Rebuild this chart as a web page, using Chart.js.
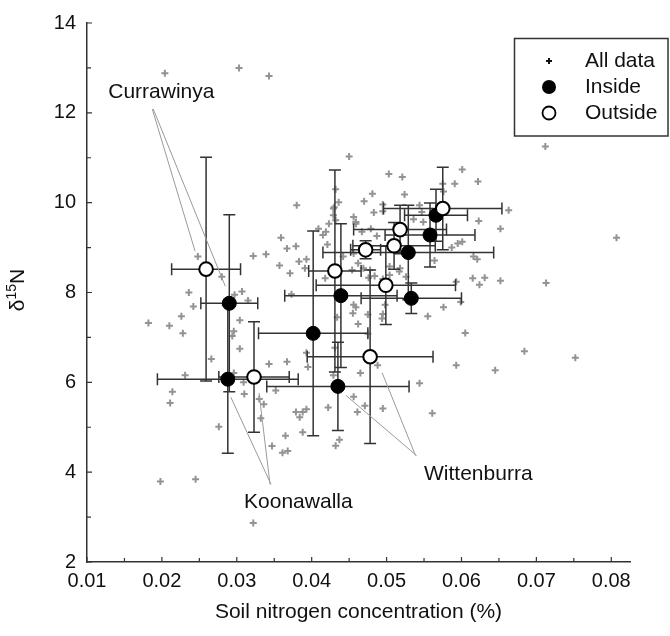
<!DOCTYPE html>
<html>
<head>
<meta charset="utf-8">
<script src="https://cdn.jsdelivr.net/npm/chart.js@4"></script>
<style>html,body{margin:0;padding:0;background:#fff}</style>
</head>
<body>
<canvas id="plot" width="670" height="636"></canvas>
<script>
// tick labels
var xTicks = [0.01, 0.02, 0.03, 0.04, 0.05, 0.06, 0.07, 0.08];
var yTicks = [2, 4, 6, 8, 10, 12, 14];

// all samples (soil N %, d15N)
var allN = [
  0.0204,0.0303,0.0343,0.0380,0.0359,0.0367,0.0379,0.0322,0.0339,0.0248,0.0280,0.0236,0.0357,0.0371,
  0.0383,0.0393,0.0391,0.0409,0.0415,0.0423,0.0421,0.0429,0.0432,0.0436,0.0418,0.0373,0.0297,0.0315,
  0.0182,0.0210,0.0226,0.0242,0.0228,0.0231,0.0214,0.0211,0.0266,0.0276,0.0198,0.0245,0.0322,0.0304,
  0.0296,0.0294,0.0304,0.0296,0.0309,0.0310,0.0330,0.0336,0.0332,0.0347,0.0361,0.0368,0.0365,0.0343,
  0.0367,0.0352,0.0379,0.0388,0.0393,0.0384,0.0388,0.0395,0.0393,0.0422,0.0432,0.0431,0.0429,
  0.0456,0.0459,0.0455,0.0462,0.0475,0.0494,0.0495,0.0498,0.0434,0.0555,0.0576,0.0599,0.0605,0.0684,
  0.0752,0.0593,0.0645,0.0544,0.0561,0.0488,0.0465,0.0456,0.0471,0.0461,0.0495,0.0437,0.0475,0.0713,0.0624,
  0.0712,0.0807,0.0450,0.0503,0.0521,0.0601,0.0591,0.0622,0.0481,0.0524,0.0470,0.0483,0.0495,0.0544,
  0.0536,0.0459,0.0479,0.0467,0.0487,0.0663,0.0652,0.0623,0.0587,0.0595,0.0601,0.0616,0.0621,0.0456,
  0.0454,0.0469,0.0484,0.0518,0.0593,0.0615,0.0631,0.0652,
  0.0430,0.0495,0.0456,0.0419,0.0459,0.0462,0.0442,0.0547,0.0549,0.0564,0.0517,0.0526,0.0504,0.0504,
  0.0478,0.0476,0.0495,0.0575,0.0576,0.0307,0.0429,0.0432
];
var allD15N = [
  12.88,13.00,12.82,9.94,9.22,8.98,9.03,8.81,8.85,8.80,8.35,8.00,8.60,8.43,
  8.69,8.74,8.54,9.42,9.28,9.53,9.07,9.87,10.30,10.01,8.32,7.96,7.95,7.82,
  7.32,7.26,7.47,7.69,7.09,6.16,5.79,5.54,6.52,5.01,3.79,3.84,2.87,7.38,
  7.14,7.03,6.75,6.21,6.00,5.74,5.63,5.51,5.20,4.58,4.43,4.47,4.81,6.41,
  6.46,5.82,5.34,5.34,5.40,5.22,4.89,6.34,6.66,5.44,4.59,6.77,6.16,
  7.73,7.67,7.54,7.30,7.51,7.42,7.52,7.73,7.45,7.47,7.67,7.79,7.10,6.69,
  6.55,6.38,6.27,5.98,5.31,6.38,6.21,5.68,5.48,5.34,5.42,4.72,7.08,8.21,8.17,
  11.25,9.22,11.03,10.64,10.57,10.74,10.42,10.47,10.20,10.18,10.03,9.78,9.81,9.94,
  9.63,9.53,9.42,9.35,9.26,9.83,9.42,9.59,9.00,9.09,9.13,8.80,8.74,8.87,
  8.50,8.54,8.37,8.54,8.24,8.32,8.33,8.26,
  9.90,9.96,9.68,9.35,9.57,8.65,8.80,9.79,9.57,8.71,8.47,8.35,8.58,8.39,
  8.50,8.33,8.30,10.42,10.25,8.02,9.72,9.61
];

// site means +- error; index 0 Currawinya, 1 Koonawalla, 2 Wittenburra
var insideN      = [0.0290, 0.0288, 0.0435, 0.0402, 0.0439, 0.0533, 0.0529, 0.0558, 0.0566];
var insideD15N   = [7.76, 6.07, 5.91, 7.09, 7.93, 7.87, 8.89, 9.28, 9.72];
var insideNErr   = [0.0038, 0.0094, 0.0095, 0.0073, 0.0075, 0.0067, 0.0114, 0.0060, 0.0042];
var insideD15NErr= [1.97, 1.65, 0.98, 2.28, 1.60, 0.34, 1.05, 0.71, 0.58];

var outsideN      = [0.0259, 0.0323, 0.0478, 0.0431, 0.0472, 0.0499, 0.0510, 0.0518, 0.0575];
var outsideD15N   = [8.52, 6.12, 6.57, 8.48, 8.95, 8.16, 9.04, 9.40, 9.87];
var outsideNErr   = [0.0046, 0.0047, 0.0084, 0.0035, 0.0020, 0.0093, 0.0055, 0.0062, 0.0079];
var outsideD15NErr= [2.49, 1.23, 1.93, 2.25, 0.20, 0.87, 0.52, 0.54, 0.92];

var siteNames = ['Currawinya', 'Koonawalla', 'Wittenburra'];

// callout layout: label anchor and line start (axis units), pixel offsets of line ends from the markers
var callouts = [
  { label: [0.01284, 12.47], start: [0.01871, 12.085], outOff: [-11, -18], inOff: [-4, -17] },
  { label: [0.03097, 3.336], start: [0.03444, 3.728], outOff: [5, 16], inOff: [3, 18] },
  { label: [0.05500, 3.965], start: [0.05387, 4.37], outOff: [12, 16], inOff: [8, 9] }
];

var fam = '"Liberation Sans", Arial, sans-serif';
var ink = '#111';

function pts(xs, ys) {
  return xs.map(function (x, i) { return { x: x, y: ys[i] }; });
}

var errorBars = {
  id: 'errorBars',
  afterDatasetDraw: function (chart, args) {
    if (args.index !== 0) return;
    var ctx = chart.ctx, sx = chart.scales.x, sy = chart.scales.y, cap = 6;
    ctx.save();
    ctx.strokeStyle = '#333';
    ctx.lineWidth = 1.5;
    [[insideN, insideD15N, insideNErr, insideD15NErr],
     [outsideN, outsideD15N, outsideNErr, outsideD15NErr]].forEach(function (g) {
      for (var i = 0; i < g[0].length; i++) {
        var cx = sx.getPixelForValue(g[0][i]), cy = sy.getPixelForValue(g[1][i]);
        var x0 = sx.getPixelForValue(g[0][i] - g[2][i]), x1 = sx.getPixelForValue(g[0][i] + g[2][i]);
        var y0 = sy.getPixelForValue(g[1][i] - g[3][i]), y1 = sy.getPixelForValue(g[1][i] + g[3][i]);
        ctx.beginPath();
        ctx.moveTo(x0, cy); ctx.lineTo(x1, cy);
        ctx.moveTo(x0, cy - cap); ctx.lineTo(x0, cy + cap);
        ctx.moveTo(x1, cy - cap); ctx.lineTo(x1, cy + cap);
        ctx.moveTo(cx, y0); ctx.lineTo(cx, y1);
        ctx.moveTo(cx - cap, y0); ctx.lineTo(cx + cap, y0);
        ctx.moveTo(cx - cap, y1); ctx.lineTo(cx + cap, y1);
        ctx.stroke();
      }
    });
    ctx.restore();
  }
};

var extras = {
  id: 'extras',
  afterDraw: function (chart) {
    var ctx = chart.ctx, sx = chart.scales.x, sy = chart.scales.y, a = chart.chartArea;
    ctx.save();

    // inward ticks
    ctx.strokeStyle = '#333';
    ctx.lineWidth = 1.2;
    ctx.beginPath();
    xTicks.forEach(function (v, i) {
      var p = sx.getPixelForValue(v);
      ctx.moveTo(p, a.bottom); ctx.lineTo(p, a.bottom - 5);
      var m = sx.getPixelForValue(v + (xTicks[1] - xTicks[0]) / 2);
      if (m < a.right) { ctx.moveTo(m, a.bottom); ctx.lineTo(m, a.bottom - 4); }
    });
    yTicks.forEach(function (v, i) {
      var p = sy.getPixelForValue(v);
      ctx.moveTo(a.left, p); ctx.lineTo(a.left + 5, p);
      if (i < yTicks.length - 1) {
        var m = sy.getPixelForValue(v + (yTicks[1] - yTicks[0]) / 2);
        ctx.moveTo(a.left, m); ctx.lineTo(a.left + 4, m);
      }
    });
    ctx.stroke();

    // callouts
    ctx.strokeStyle = '#9a9a9a';
    ctx.lineWidth = 1;
    ctx.fillStyle = ink;
    ctx.font = '21px ' + fam;
    ctx.textBaseline = 'middle';
    ctx.textAlign = 'left';
    callouts.forEach(function (c, i) {
      var s = [sx.getPixelForValue(c.start[0]), sy.getPixelForValue(c.start[1])];
      var o = [sx.getPixelForValue(outsideN[i]) + c.outOff[0], sy.getPixelForValue(outsideD15N[i]) + c.outOff[1]];
      var n = [sx.getPixelForValue(insideN[i]) + c.inOff[0], sy.getPixelForValue(insideD15N[i]) + c.inOff[1]];
      ctx.beginPath();
      ctx.moveTo(s[0], s[1]); ctx.lineTo(o[0], o[1]);
      ctx.moveTo(s[0] + 1, s[1]); ctx.lineTo(n[0], n[1]);
      ctx.stroke();
      ctx.fillText(siteNames[i], sx.getPixelForValue(c.label[0]), sy.getPixelForValue(c.label[1]));
    });

    // legend
    ctx.strokeStyle = '#333';
    ctx.lineWidth = 1.5;
    ctx.strokeRect(514.5, 38.5, 153.5, 97.5);
    ctx.strokeStyle = '#111';
    ctx.beginPath();
    ctx.lineWidth = 2;
    ctx.moveTo(546, 61); ctx.lineTo(552, 61);
    ctx.moveTo(549, 58); ctx.lineTo(549, 64);
    ctx.stroke();
    ctx.beginPath();
    ctx.arc(549, 87, 7, 0, Math.PI * 2);
    ctx.fillStyle = '#000';
    ctx.fill();
    ctx.beginPath();
    ctx.arc(549, 113, 6.5, 0, Math.PI * 2);
    ctx.fillStyle = '#fff';
    ctx.fill();
    ctx.lineWidth = 1.8;
    ctx.strokeStyle = '#000';
    ctx.stroke();
    ctx.fillStyle = ink;
    ctx.fillText('All data', 585, 61);
    ctx.fillText('Inside', 585, 87);
    ctx.fillText('Outside', 585, 113);

    // y title with superscript
    ctx.translate(17, 290);
    ctx.rotate(-Math.PI / 2);
    ctx.textBaseline = 'alphabetic';
    ctx.font = '21px ' + fam;
    var w1 = ctx.measureText('\u03b4').width, w3 = ctx.measureText('N').width;
    ctx.font = '14px ' + fam;
    var w2 = ctx.measureText('15').width;
    var x = -(w1 + w2 + w3) / 2;
    ctx.font = '21px ' + fam;
    ctx.fillText('\u03b4', x, 7);
    ctx.font = '14px ' + fam;
    ctx.fillText('15', x + w1, -1);
    ctx.font = '21px ' + fam;
    ctx.fillText('N', x + w1 + w2, 7);
    ctx.restore();
  }
};

new Chart(document.getElementById('plot').getContext('2d'), {
  type: 'scatter',
  data: {
    datasets: [
      {
        label: 'All data',
        data: pts(allN, allD15N),
        pointStyle: 'cross',
        pointRadius: 3.5,
        borderWidth: 2,
        borderColor: '#939393',
        order: 2
      },
      {
        label: 'Inside',
        data: pts(insideN, insideD15N),
        pointStyle: 'circle',
        pointRadius: 7,
        backgroundColor: '#000',
        borderColor: '#000',
        borderWidth: 1,
        order: 1
      },
      {
        label: 'Outside',
        data: pts(outsideN, outsideD15N),
        pointStyle: 'circle',
        pointRadius: 6.8,
        backgroundColor: '#fff',
        borderColor: '#000',
        borderWidth: 2,
        order: 0
      }
    ]
  },
  options: {
    responsive: false,
    animation: false,
    devicePixelRatio: 1,
    layout: { padding: { left: 0, right: 40, top: 20, bottom: 0 } },
    plugins: { legend: { display: false }, tooltip: { enabled: false } },
    scales: {
      x: {
        type: 'linear',
        min: 0.01,
        max: 0.0825,
        afterBuildTicks: function (s) { s.ticks = xTicks.map(function (v) { return { value: v }; }); },
        afterFit: function (s) { s.height = 74; },
        grid: { display: false, drawTicks: false },
        border: { display: true, color: '#333', width: 1.5 },
        ticks: {
          padding: 7, color: ink, autoSkip: false, maxRotation: 0,
          font: { family: fam, size: 20 },
          callback: function (v) { return Number(v).toFixed(2); }
        },
        title: {
          display: true, text: 'Soil nitrogen concentration (%)', color: ink,
          font: { family: fam, size: 21 }, padding: { top: 0, bottom: 11 }
        }
      },
      y: {
        type: 'linear',
        min: 2,
        max: 14,
        afterBuildTicks: function (s) { s.ticks = yTicks.map(function (v) { return { value: v }; }); },
        afterFit: function (s) { s.width = 87; },
        grid: { display: false, drawTicks: false },
        border: { display: true, color: '#333', width: 1.5 },
        ticks: {
          padding: 11, color: ink,
          font: { family: fam, size: 20 },
          callback: function (v) { return String(v); }
        }
      }
    }
  },
  plugins: [errorBars, extras]
});
</script>
</body>
</html>
